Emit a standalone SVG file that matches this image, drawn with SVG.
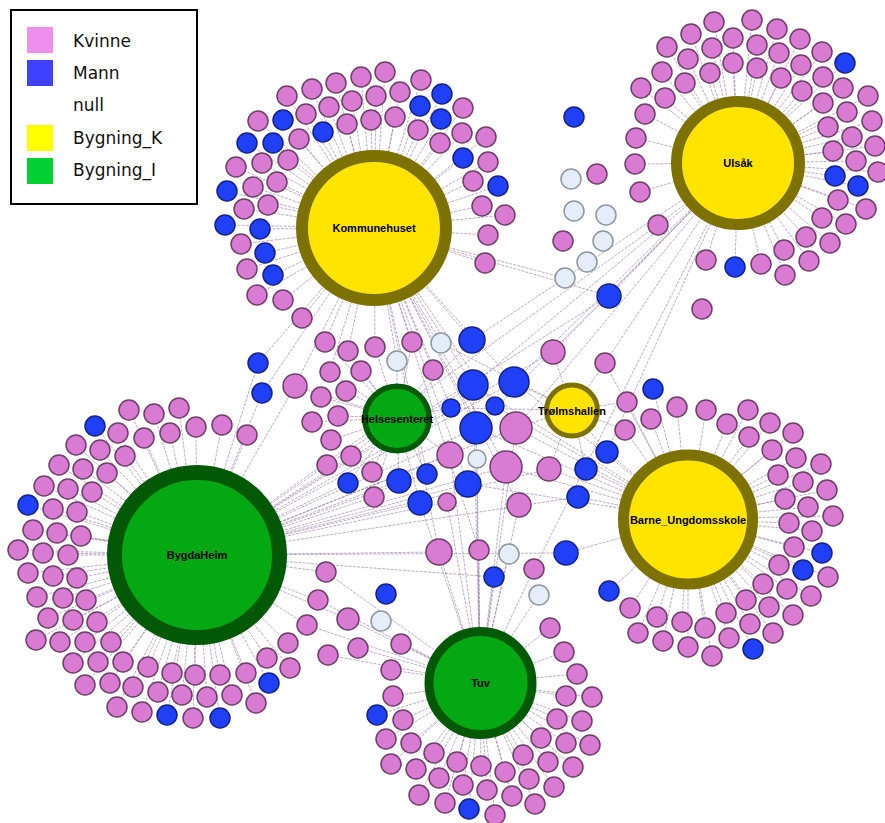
<svg xmlns="http://www.w3.org/2000/svg" width="885" height="823" viewBox="0 0 885 823">
<style>
.bg{fill:#fff}
.e line{stroke:#8a6d9c;stroke-width:.8;stroke-dasharray:3 1.2;opacity:.7}
.f{fill:#d97bd3;stroke:#6e3f68;stroke-width:1.5}
.m{fill:#2040f8;stroke:#13208a;stroke-width:1.5}
.n{fill:#e5edfa;stroke:#8d979d;stroke-width:1.5}
.hk{fill:#ffe400;stroke:#7d7100}
.hi{fill:#03a812;stroke:#015805}
.lb{font-family:"Liberation Sans",Arial,sans-serif;font-size:11px;font-weight:bold;fill:#000;text-anchor:middle}
.lg{font-family:"DejaVu Sans",Verdana,sans-serif;font-size:17px;fill:#111}
</style>
<rect class="bg" width="885" height="823"/>
<g id="connectors" class="e">
<!-- Kommunehuset -->
<line x1="385" y1="72" x2="374" y2="228"/><line x1="361" y1="77" x2="374" y2="228"/><line x1="336" y1="83" x2="374" y2="228"/><line x1="312" y1="89" x2="374" y2="228"/><line x1="287" y1="96" x2="374" y2="228"/><line x1="421" y1="80" x2="374" y2="228"/><line x1="442" y1="94" x2="374" y2="228"/><line x1="400" y1="92" x2="374" y2="228"/><line x1="376" y1="96" x2="374" y2="228"/><line x1="352" y1="101" x2="374" y2="228"/><line x1="329" y1="107" x2="374" y2="228"/><line x1="306" y1="114" x2="374" y2="228"/><line x1="283" y1="120" x2="374" y2="228"/><line x1="258" y1="121" x2="374" y2="228"/><line x1="420" y1="106" x2="374" y2="228"/><line x1="441" y1="119" x2="374" y2="228"/><line x1="463" y1="108" x2="374" y2="228"/><line x1="395" y1="117" x2="374" y2="228"/><line x1="371" y1="120" x2="374" y2="228"/><line x1="347" y1="124" x2="374" y2="228"/><line x1="323" y1="132" x2="374" y2="228"/><line x1="299" y1="139" x2="374" y2="228"/><line x1="273" y1="143" x2="374" y2="228"/><line x1="247" y1="143" x2="374" y2="228"/><line x1="418" y1="130" x2="374" y2="228"/><line x1="440" y1="143" x2="374" y2="228"/><line x1="462" y1="133" x2="374" y2="228"/><line x1="486" y1="137" x2="374" y2="228"/><line x1="463" y1="158" x2="374" y2="228"/><line x1="488" y1="162" x2="374" y2="228"/><line x1="288" y1="160" x2="374" y2="228"/><line x1="262" y1="163" x2="374" y2="228"/><line x1="236" y1="167" x2="374" y2="228"/><line x1="473" y1="181" x2="374" y2="228"/><line x1="498" y1="186" x2="374" y2="228"/><line x1="277" y1="182" x2="374" y2="228"/><line x1="253" y1="187" x2="374" y2="228"/><line x1="227" y1="191" x2="374" y2="228"/><line x1="482" y1="206" x2="374" y2="228"/><line x1="505" y1="215" x2="374" y2="228"/><line x1="268" y1="205" x2="374" y2="228"/><line x1="244" y1="209" x2="374" y2="228"/><line x1="225" y1="225" x2="374" y2="228"/><line x1="260" y1="229" x2="374" y2="228"/><line x1="488" y1="235" x2="374" y2="228"/><line x1="241" y1="244" x2="374" y2="228"/><line x1="265" y1="253" x2="374" y2="228"/><line x1="485" y1="263" x2="374" y2="228"/><line x1="247" y1="269" x2="374" y2="228"/><line x1="273" y1="275" x2="374" y2="228"/><line x1="257" y1="295" x2="374" y2="228"/><line x1="283" y1="300" x2="374" y2="228"/><line x1="302" y1="318" x2="374" y2="228"/>
<line x1="441" y1="343" x2="374" y2="228"/><line x1="472" y1="340" x2="374" y2="228"/><line x1="473" y1="385" x2="374" y2="228"/><line x1="514" y1="382" x2="374" y2="228"/><line x1="451" y1="408" x2="374" y2="228"/><line x1="495" y1="406" x2="374" y2="228"/><line x1="476" y1="428" x2="374" y2="228"/><line x1="506" y1="467" x2="374" y2="228"/><line x1="427" y1="474" x2="374" y2="228"/><line x1="468" y1="484" x2="374" y2="228"/><line x1="519" y1="505" x2="374" y2="228"/><line x1="439" y1="552" x2="374" y2="228"/><line x1="479" y1="550" x2="374" y2="228"/><line x1="609" y1="296" x2="374" y2="228"/><line x1="565" y1="278" x2="374" y2="228"/><line x1="258" y1="363" x2="374" y2="228"/><line x1="262" y1="393" x2="374" y2="228"/><line x1="295" y1="386" x2="374" y2="228"/><line x1="325" y1="342" x2="374" y2="228"/><line x1="348" y1="351" x2="374" y2="228"/><line x1="375" y1="347" x2="374" y2="228"/><line x1="397" y1="361" x2="374" y2="228"/><line x1="412" y1="342" x2="374" y2="228"/><line x1="330" y1="372" x2="374" y2="228"/><line x1="433" y1="370" x2="374" y2="228"/>
<!-- Ulsak -->
<line x1="714" y1="22" x2="738" y2="163"/><line x1="752" y1="20" x2="738" y2="163"/><line x1="691" y1="34" x2="738" y2="163"/><line x1="777" y1="29" x2="738" y2="163"/><line x1="733" y1="38" x2="738" y2="163"/><line x1="667" y1="47" x2="738" y2="163"/><line x1="712" y1="48" x2="738" y2="163"/><line x1="757" y1="45" x2="738" y2="163"/><line x1="800" y1="39" x2="738" y2="163"/><line x1="822" y1="52" x2="738" y2="163"/><line x1="845" y1="63" x2="738" y2="163"/><line x1="688" y1="59" x2="738" y2="163"/><line x1="733" y1="63" x2="738" y2="163"/><line x1="779" y1="53" x2="738" y2="163"/><line x1="662" y1="72" x2="738" y2="163"/><line x1="710" y1="73" x2="738" y2="163"/><line x1="757" y1="68" x2="738" y2="163"/><line x1="801" y1="65" x2="738" y2="163"/><line x1="823" y1="77" x2="738" y2="163"/><line x1="641" y1="88" x2="738" y2="163"/><line x1="685" y1="83" x2="738" y2="163"/><line x1="781" y1="78" x2="738" y2="163"/><line x1="802" y1="91" x2="738" y2="163"/><line x1="843" y1="88" x2="738" y2="163"/><line x1="868" y1="96" x2="738" y2="163"/><line x1="665" y1="98" x2="738" y2="163"/><line x1="823" y1="103" x2="738" y2="163"/><line x1="847" y1="112" x2="738" y2="163"/><line x1="872" y1="121" x2="738" y2="163"/><line x1="645" y1="114" x2="738" y2="163"/><line x1="828" y1="127" x2="738" y2="163"/><line x1="852" y1="137" x2="738" y2="163"/><line x1="875" y1="146" x2="738" y2="163"/><line x1="636" y1="138" x2="738" y2="163"/><line x1="833" y1="151" x2="738" y2="163"/><line x1="856" y1="161" x2="738" y2="163"/><line x1="878" y1="172" x2="738" y2="163"/><line x1="635" y1="164" x2="738" y2="163"/><line x1="835" y1="176" x2="738" y2="163"/><line x1="858" y1="186" x2="738" y2="163"/><line x1="640" y1="192" x2="738" y2="163"/><line x1="838" y1="200" x2="738" y2="163"/><line x1="866" y1="209" x2="738" y2="163"/><line x1="658" y1="225" x2="738" y2="163"/><line x1="822" y1="218" x2="738" y2="163"/><line x1="846" y1="224" x2="738" y2="163"/><line x1="806" y1="237" x2="738" y2="163"/><line x1="830" y1="243" x2="738" y2="163"/><line x1="784" y1="250" x2="738" y2="163"/><line x1="809" y1="261" x2="738" y2="163"/><line x1="706" y1="260" x2="738" y2="163"/><line x1="735" y1="267" x2="738" y2="163"/><line x1="761" y1="264" x2="738" y2="163"/><line x1="785" y1="275" x2="738" y2="163"/>
<line x1="472" y1="340" x2="738" y2="163"/><line x1="473" y1="385" x2="738" y2="163"/><line x1="514" y1="382" x2="738" y2="163"/><line x1="553" y1="352" x2="738" y2="163"/><line x1="605" y1="363" x2="738" y2="163"/><line x1="476" y1="428" x2="738" y2="163"/><line x1="516" y1="428" x2="738" y2="163"/><line x1="607" y1="452" x2="738" y2="163"/><line x1="534" y1="569" x2="738" y2="163"/><line x1="609" y1="296" x2="738" y2="163"/>
<!-- BygdaHeim -->
<line x1="129" y1="410" x2="197" y2="555"/><line x1="154" y1="414" x2="197" y2="555"/><line x1="179" y1="408" x2="197" y2="555"/><line x1="95" y1="426" x2="197" y2="555"/><line x1="118" y1="433" x2="197" y2="555"/><line x1="144" y1="438" x2="197" y2="555"/><line x1="170" y1="433" x2="197" y2="555"/><line x1="196" y1="427" x2="197" y2="555"/><line x1="222" y1="425" x2="197" y2="555"/><line x1="247" y1="435" x2="197" y2="555"/><line x1="76" y1="445" x2="197" y2="555"/><line x1="100" y1="450" x2="197" y2="555"/><line x1="125" y1="456" x2="197" y2="555"/><line x1="59" y1="465" x2="197" y2="555"/><line x1="83" y1="469" x2="197" y2="555"/><line x1="107" y1="473" x2="197" y2="555"/><line x1="44" y1="486" x2="197" y2="555"/><line x1="68" y1="489" x2="197" y2="555"/><line x1="92" y1="492" x2="197" y2="555"/><line x1="28" y1="505" x2="197" y2="555"/><line x1="53" y1="509" x2="197" y2="555"/><line x1="77" y1="512" x2="197" y2="555"/><line x1="33" y1="530" x2="197" y2="555"/><line x1="57" y1="533" x2="197" y2="555"/><line x1="81" y1="536" x2="197" y2="555"/><line x1="18" y1="550" x2="197" y2="555"/><line x1="43" y1="553" x2="197" y2="555"/><line x1="68" y1="555" x2="197" y2="555"/><line x1="28" y1="573" x2="197" y2="555"/><line x1="53" y1="576" x2="197" y2="555"/><line x1="77" y1="578" x2="197" y2="555"/><line x1="37" y1="597" x2="197" y2="555"/><line x1="63" y1="598" x2="197" y2="555"/><line x1="86" y1="600" x2="197" y2="555"/><line x1="48" y1="618" x2="197" y2="555"/><line x1="73" y1="620" x2="197" y2="555"/><line x1="97" y1="622" x2="197" y2="555"/><line x1="36" y1="640" x2="197" y2="555"/><line x1="60" y1="642" x2="197" y2="555"/><line x1="85" y1="642" x2="197" y2="555"/><line x1="111" y1="642" x2="197" y2="555"/><line x1="73" y1="663" x2="197" y2="555"/><line x1="98" y1="662" x2="197" y2="555"/><line x1="123" y1="662" x2="197" y2="555"/><line x1="148" y1="667" x2="197" y2="555"/><line x1="172" y1="673" x2="197" y2="555"/><line x1="195" y1="675" x2="197" y2="555"/><line x1="220" y1="675" x2="197" y2="555"/><line x1="246" y1="673" x2="197" y2="555"/><line x1="267" y1="658" x2="197" y2="555"/><line x1="288" y1="643" x2="197" y2="555"/><line x1="290" y1="668" x2="197" y2="555"/><line x1="307" y1="625" x2="197" y2="555"/><line x1="85" y1="685" x2="197" y2="555"/><line x1="110" y1="683" x2="197" y2="555"/><line x1="133" y1="687" x2="197" y2="555"/><line x1="158" y1="692" x2="197" y2="555"/><line x1="182" y1="695" x2="197" y2="555"/><line x1="207" y1="697" x2="197" y2="555"/><line x1="232" y1="695" x2="197" y2="555"/><line x1="269" y1="683" x2="197" y2="555"/><line x1="117" y1="707" x2="197" y2="555"/><line x1="142" y1="712" x2="197" y2="555"/><line x1="167" y1="715" x2="197" y2="555"/><line x1="193" y1="718" x2="197" y2="555"/><line x1="220" y1="718" x2="197" y2="555"/><line x1="256" y1="703" x2="197" y2="555"/>
<line x1="473" y1="385" x2="197" y2="555"/><line x1="514" y1="382" x2="197" y2="555"/><line x1="553" y1="352" x2="197" y2="555"/><line x1="476" y1="428" x2="197" y2="555"/><line x1="516" y1="428" x2="197" y2="555"/><line x1="450" y1="455" x2="197" y2="555"/><line x1="506" y1="467" x2="197" y2="555"/><line x1="549" y1="469" x2="197" y2="555"/><line x1="399" y1="481" x2="197" y2="555"/><line x1="427" y1="474" x2="197" y2="555"/><line x1="468" y1="484" x2="197" y2="555"/><line x1="420" y1="503" x2="197" y2="555"/><line x1="447" y1="502" x2="197" y2="555"/><line x1="578" y1="497" x2="197" y2="555"/><line x1="439" y1="552" x2="197" y2="555"/><line x1="566" y1="553" x2="197" y2="555"/><line x1="494" y1="577" x2="197" y2="555"/><line x1="326" y1="572" x2="197" y2="555"/><line x1="318" y1="600" x2="197" y2="555"/><line x1="348" y1="619" x2="197" y2="555"/><line x1="609" y1="296" x2="197" y2="555"/><line x1="658" y1="225" x2="197" y2="555"/><line x1="258" y1="363" x2="197" y2="555"/><line x1="262" y1="393" x2="197" y2="555"/><line x1="295" y1="386" x2="197" y2="555"/><line x1="327" y1="465" x2="197" y2="555"/><line x1="348" y1="483" x2="197" y2="555"/><line x1="374" y1="497" x2="197" y2="555"/><line x1="351" y1="456" x2="197" y2="555"/>
<!-- Tuv -->
<line x1="358" y1="648" x2="480" y2="683"/><line x1="328" y1="655" x2="480" y2="683"/><line x1="401" y1="644" x2="480" y2="683"/><line x1="391" y1="670" x2="480" y2="683"/><line x1="393" y1="696" x2="480" y2="683"/><line x1="377" y1="715" x2="480" y2="683"/><line x1="403" y1="720" x2="480" y2="683"/><line x1="386" y1="739" x2="480" y2="683"/><line x1="411" y1="743" x2="480" y2="683"/><line x1="391" y1="764" x2="480" y2="683"/><line x1="416" y1="769" x2="480" y2="683"/><line x1="434" y1="753" x2="480" y2="683"/><line x1="457" y1="762" x2="480" y2="683"/><line x1="481" y1="766" x2="480" y2="683"/><line x1="505" y1="772" x2="480" y2="683"/><line x1="523" y1="755" x2="480" y2="683"/><line x1="541" y1="738" x2="480" y2="683"/><line x1="557" y1="719" x2="480" y2="683"/><line x1="566" y1="696" x2="480" y2="683"/><line x1="577" y1="674" x2="480" y2="683"/><line x1="564" y1="652" x2="480" y2="683"/><line x1="550" y1="628" x2="480" y2="683"/><line x1="592" y1="697" x2="480" y2="683"/><line x1="582" y1="721" x2="480" y2="683"/><line x1="566" y1="743" x2="480" y2="683"/><line x1="590" y1="745" x2="480" y2="683"/><line x1="548" y1="762" x2="480" y2="683"/><line x1="573" y1="767" x2="480" y2="683"/><line x1="529" y1="779" x2="480" y2="683"/><line x1="554" y1="787" x2="480" y2="683"/><line x1="439" y1="778" x2="480" y2="683"/><line x1="463" y1="785" x2="480" y2="683"/><line x1="487" y1="790" x2="480" y2="683"/><line x1="512" y1="796" x2="480" y2="683"/><line x1="535" y1="804" x2="480" y2="683"/><line x1="419" y1="795" x2="480" y2="683"/><line x1="445" y1="803" x2="480" y2="683"/><line x1="469" y1="809" x2="480" y2="683"/><line x1="495" y1="815" x2="480" y2="683"/>
<line x1="473" y1="385" x2="480" y2="683"/><line x1="476" y1="428" x2="480" y2="683"/><line x1="516" y1="428" x2="480" y2="683"/><line x1="450" y1="455" x2="480" y2="683"/><line x1="477" y1="459" x2="480" y2="683"/><line x1="506" y1="467" x2="480" y2="683"/><line x1="420" y1="503" x2="480" y2="683"/><line x1="447" y1="502" x2="480" y2="683"/><line x1="519" y1="505" x2="480" y2="683"/><line x1="439" y1="552" x2="480" y2="683"/><line x1="479" y1="550" x2="480" y2="683"/><line x1="509" y1="554" x2="480" y2="683"/><line x1="534" y1="569" x2="480" y2="683"/><line x1="494" y1="577" x2="480" y2="683"/><line x1="539" y1="595" x2="480" y2="683"/><line x1="326" y1="572" x2="480" y2="683"/><line x1="318" y1="600" x2="480" y2="683"/><line x1="348" y1="619" x2="480" y2="683"/><line x1="307" y1="625" x2="480" y2="683"/>
<!-- Barne_Ungdomsskole -->
<line x1="653" y1="389" x2="688" y2="519"/><line x1="677" y1="407" x2="688" y2="519"/><line x1="651" y1="419" x2="688" y2="519"/><line x1="706" y1="410" x2="688" y2="519"/><line x1="748" y1="410" x2="688" y2="519"/><line x1="727" y1="424" x2="688" y2="519"/><line x1="770" y1="423" x2="688" y2="519"/><line x1="793" y1="433" x2="688" y2="519"/><line x1="749" y1="437" x2="688" y2="519"/><line x1="772" y1="450" x2="688" y2="519"/><line x1="796" y1="458" x2="688" y2="519"/><line x1="821" y1="464" x2="688" y2="519"/><line x1="778" y1="475" x2="688" y2="519"/><line x1="803" y1="482" x2="688" y2="519"/><line x1="827" y1="490" x2="688" y2="519"/><line x1="785" y1="499" x2="688" y2="519"/><line x1="808" y1="507" x2="688" y2="519"/><line x1="833" y1="516" x2="688" y2="519"/><line x1="789" y1="523" x2="688" y2="519"/><line x1="812" y1="531" x2="688" y2="519"/><line x1="794" y1="547" x2="688" y2="519"/><line x1="822" y1="553" x2="688" y2="519"/><line x1="779" y1="565" x2="688" y2="519"/><line x1="803" y1="570" x2="688" y2="519"/><line x1="828" y1="577" x2="688" y2="519"/><line x1="763" y1="584" x2="688" y2="519"/><line x1="787" y1="589" x2="688" y2="519"/><line x1="811" y1="596" x2="688" y2="519"/><line x1="746" y1="600" x2="688" y2="519"/><line x1="769" y1="607" x2="688" y2="519"/><line x1="793" y1="615" x2="688" y2="519"/><line x1="657" y1="617" x2="688" y2="519"/><line x1="682" y1="622" x2="688" y2="519"/><line x1="705" y1="628" x2="688" y2="519"/><line x1="726" y1="613" x2="688" y2="519"/><line x1="750" y1="624" x2="688" y2="519"/><line x1="773" y1="633" x2="688" y2="519"/><line x1="638" y1="633" x2="688" y2="519"/><line x1="663" y1="641" x2="688" y2="519"/><line x1="688" y1="647" x2="688" y2="519"/><line x1="712" y1="656" x2="688" y2="519"/><line x1="729" y1="638" x2="688" y2="519"/><line x1="753" y1="649" x2="688" y2="519"/><line x1="609" y1="591" x2="688" y2="519"/><line x1="630" y1="608" x2="688" y2="519"/>
<line x1="473" y1="385" x2="688" y2="519"/><line x1="514" y1="382" x2="688" y2="519"/><line x1="605" y1="363" x2="688" y2="519"/><line x1="495" y1="406" x2="688" y2="519"/><line x1="476" y1="428" x2="688" y2="519"/><line x1="516" y1="428" x2="688" y2="519"/><line x1="627" y1="402" x2="688" y2="519"/><line x1="625" y1="430" x2="688" y2="519"/><line x1="506" y1="467" x2="688" y2="519"/><line x1="549" y1="469" x2="688" y2="519"/><line x1="586" y1="469" x2="688" y2="519"/><line x1="607" y1="452" x2="688" y2="519"/><line x1="468" y1="484" x2="688" y2="519"/><line x1="578" y1="497" x2="688" y2="519"/><line x1="566" y1="553" x2="688" y2="519"/>
<!-- Helsesenteret -->
<line x1="325" y1="342" x2="397" y2="418"/><line x1="348" y1="351" x2="397" y2="418"/><line x1="375" y1="347" x2="397" y2="418"/><line x1="397" y1="361" x2="397" y2="418"/><line x1="412" y1="342" x2="397" y2="418"/><line x1="330" y1="372" x2="397" y2="418"/><line x1="361" y1="371" x2="397" y2="418"/><line x1="321" y1="397" x2="397" y2="418"/><line x1="346" y1="391" x2="397" y2="418"/><line x1="338" y1="416" x2="397" y2="418"/><line x1="312" y1="422" x2="397" y2="418"/><line x1="331" y1="440" x2="397" y2="418"/><line x1="351" y1="456" x2="397" y2="418"/><line x1="327" y1="465" x2="397" y2="418"/><line x1="372" y1="472" x2="397" y2="418"/><line x1="348" y1="483" x2="397" y2="418"/><line x1="374" y1="497" x2="397" y2="418"/><line x1="433" y1="370" x2="397" y2="418"/>
<line x1="472" y1="340" x2="397" y2="418"/><line x1="451" y1="408" x2="397" y2="418"/><line x1="450" y1="455" x2="397" y2="418"/><line x1="399" y1="481" x2="397" y2="418"/><line x1="427" y1="474" x2="397" y2="418"/><line x1="420" y1="503" x2="397" y2="418"/><line x1="295" y1="386" x2="397" y2="418"/>
<!-- Trolmshallen -->
<line x1="441" y1="343" x2="572" y2="410"/><line x1="514" y1="382" x2="572" y2="410"/><line x1="553" y1="352" x2="572" y2="410"/><line x1="605" y1="363" x2="572" y2="410"/><line x1="451" y1="408" x2="572" y2="410"/><line x1="516" y1="428" x2="572" y2="410"/><line x1="627" y1="402" x2="572" y2="410"/><line x1="625" y1="430" x2="572" y2="410"/><line x1="549" y1="469" x2="572" y2="410"/><line x1="586" y1="469" x2="572" y2="410"/><line x1="607" y1="452" x2="572" y2="410"/>
</g>
<g id="people">
<g id="k01"><circle class="f" cx="385" cy="72" r="10"/></g><g id="k02"><circle class="f" cx="361" cy="77" r="10"/></g><g id="k03"><circle class="f" cx="336" cy="83" r="10"/></g><g id="k04"><circle class="f" cx="312" cy="89" r="10"/></g><g id="k05"><circle class="f" cx="287" cy="96" r="10"/></g><g id="k06"><circle class="f" cx="421" cy="80" r="10"/></g><g id="k07"><circle class="m" cx="442" cy="94" r="10"/></g><g id="k08"><circle class="f" cx="400" cy="92" r="10"/></g><g id="k09"><circle class="f" cx="376" cy="96" r="10"/></g><g id="k10"><circle class="f" cx="352" cy="101" r="10"/></g><g id="k11"><circle class="f" cx="329" cy="107" r="10"/></g><g id="k12"><circle class="f" cx="306" cy="114" r="10"/></g><g id="k13"><circle class="m" cx="283" cy="120" r="10"/></g><g id="k14"><circle class="f" cx="258" cy="121" r="10"/></g><g id="k15"><circle class="m" cx="420" cy="106" r="10"/></g><g id="k16"><circle class="m" cx="441" cy="119" r="10"/></g><g id="k17"><circle class="f" cx="463" cy="108" r="10"/></g><g id="k18"><circle class="f" cx="395" cy="117" r="10"/></g><g id="k19"><circle class="f" cx="371" cy="120" r="10"/></g><g id="k20"><circle class="f" cx="347" cy="124" r="10"/></g><g id="k21"><circle class="m" cx="323" cy="132" r="10"/></g><g id="k22"><circle class="f" cx="299" cy="139" r="10"/></g><g id="k23"><circle class="m" cx="273" cy="143" r="10"/></g><g id="k24"><circle class="m" cx="247" cy="143" r="10"/></g><g id="k25"><circle class="f" cx="418" cy="130" r="10"/></g><g id="k26"><circle class="f" cx="440" cy="143" r="10"/></g><g id="k27"><circle class="f" cx="462" cy="133" r="10"/></g><g id="k28"><circle class="f" cx="486" cy="137" r="10"/></g><g id="k29"><circle class="m" cx="463" cy="158" r="10"/></g><g id="k30"><circle class="f" cx="488" cy="162" r="10"/></g><g id="k31"><circle class="f" cx="288" cy="160" r="10"/></g><g id="k32"><circle class="f" cx="262" cy="163" r="10"/></g><g id="k33"><circle class="f" cx="236" cy="167" r="10"/></g><g id="k34"><circle class="f" cx="473" cy="181" r="10"/></g><g id="k35"><circle class="m" cx="498" cy="186" r="10"/></g><g id="k36"><circle class="f" cx="277" cy="182" r="10"/></g><g id="k37"><circle class="f" cx="253" cy="187" r="10"/></g><g id="k38"><circle class="m" cx="227" cy="191" r="10"/></g><g id="k39"><circle class="f" cx="482" cy="206" r="10"/></g><g id="k40"><circle class="f" cx="505" cy="215" r="10"/></g><g id="k41"><circle class="f" cx="268" cy="205" r="10"/></g><g id="k42"><circle class="f" cx="244" cy="209" r="10"/></g><g id="k43"><circle class="m" cx="225" cy="225" r="10"/></g><g id="k44"><circle class="m" cx="260" cy="229" r="10"/></g><g id="k45"><circle class="f" cx="488" cy="235" r="10"/></g><g id="k46"><circle class="f" cx="241" cy="244" r="10"/></g><g id="k47"><circle class="m" cx="265" cy="253" r="10"/></g><g id="k48"><circle class="f" cx="485" cy="263" r="10"/></g><g id="k49"><circle class="f" cx="247" cy="269" r="10"/></g><g id="k50"><circle class="m" cx="273" cy="275" r="10"/></g><g id="k51"><circle class="f" cx="257" cy="295" r="10"/></g><g id="k52"><circle class="f" cx="283" cy="300" r="10"/></g><g id="k53"><circle class="f" cx="302" cy="318" r="10"/></g>
<g id="u01"><circle class="f" cx="714" cy="22" r="10"/></g><g id="u02"><circle class="f" cx="752" cy="20" r="10"/></g><g id="u03"><circle class="f" cx="691" cy="34" r="10"/></g><g id="u04"><circle class="f" cx="777" cy="29" r="10"/></g><g id="u05"><circle class="f" cx="733" cy="38" r="10"/></g><g id="u06"><circle class="f" cx="667" cy="47" r="10"/></g><g id="u07"><circle class="f" cx="712" cy="48" r="10"/></g><g id="u08"><circle class="f" cx="757" cy="45" r="10"/></g><g id="u09"><circle class="f" cx="800" cy="39" r="10"/></g><g id="u10"><circle class="f" cx="822" cy="52" r="10"/></g><g id="u11"><circle class="m" cx="845" cy="63" r="10"/></g><g id="u12"><circle class="f" cx="688" cy="59" r="10"/></g><g id="u13"><circle class="f" cx="733" cy="63" r="10"/></g><g id="u14"><circle class="f" cx="779" cy="53" r="10"/></g><g id="u15"><circle class="f" cx="662" cy="72" r="10"/></g><g id="u16"><circle class="f" cx="710" cy="73" r="10"/></g><g id="u17"><circle class="f" cx="757" cy="68" r="10"/></g><g id="u18"><circle class="f" cx="801" cy="65" r="10"/></g><g id="u19"><circle class="f" cx="823" cy="77" r="10"/></g><g id="u20"><circle class="f" cx="641" cy="88" r="10"/></g><g id="u21"><circle class="f" cx="685" cy="83" r="10"/></g><g id="u22"><circle class="f" cx="781" cy="78" r="10"/></g><g id="u23"><circle class="f" cx="802" cy="91" r="10"/></g><g id="u24"><circle class="f" cx="843" cy="88" r="10"/></g><g id="u25"><circle class="f" cx="868" cy="96" r="10"/></g><g id="u26"><circle class="f" cx="665" cy="98" r="10"/></g><g id="u27"><circle class="f" cx="823" cy="103" r="10"/></g><g id="u28"><circle class="f" cx="847" cy="112" r="10"/></g><g id="u29"><circle class="f" cx="872" cy="121" r="10"/></g><g id="u30"><circle class="f" cx="645" cy="114" r="10"/></g><g id="u31"><circle class="f" cx="828" cy="127" r="10"/></g><g id="u32"><circle class="f" cx="852" cy="137" r="10"/></g><g id="u33"><circle class="f" cx="875" cy="146" r="10"/></g><g id="u34"><circle class="f" cx="636" cy="138" r="10"/></g><g id="u35"><circle class="f" cx="833" cy="151" r="10"/></g><g id="u36"><circle class="f" cx="856" cy="161" r="10"/></g><g id="u37"><circle class="f" cx="878" cy="172" r="10"/></g><g id="u38"><circle class="f" cx="635" cy="164" r="10"/></g><g id="u39"><circle class="m" cx="835" cy="176" r="10"/></g><g id="u40"><circle class="m" cx="858" cy="186" r="10"/></g><g id="u41"><circle class="f" cx="640" cy="192" r="10"/></g><g id="u42"><circle class="f" cx="838" cy="200" r="10"/></g><g id="u43"><circle class="f" cx="866" cy="209" r="10"/></g><g id="u44"><circle class="f" cx="658" cy="225" r="10"/></g><g id="u45"><circle class="f" cx="822" cy="218" r="10"/></g><g id="u46"><circle class="f" cx="846" cy="224" r="10"/></g><g id="u47"><circle class="f" cx="806" cy="237" r="10"/></g><g id="u48"><circle class="f" cx="830" cy="243" r="10"/></g><g id="u49"><circle class="f" cx="784" cy="250" r="10"/></g><g id="u50"><circle class="f" cx="809" cy="261" r="10"/></g><g id="u51"><circle class="f" cx="706" cy="260" r="10"/></g><g id="u52"><circle class="m" cx="735" cy="267" r="10"/></g><g id="u53"><circle class="f" cx="761" cy="264" r="10"/></g><g id="u54"><circle class="f" cx="785" cy="275" r="10"/></g><g id="u55"><circle class="f" cx="702" cy="309" r="10"/></g>
<g id="b01"><circle class="f" cx="129" cy="410" r="10"/></g><g id="b02"><circle class="f" cx="154" cy="414" r="10"/></g><g id="b03"><circle class="f" cx="179" cy="408" r="10"/></g><g id="b04"><circle class="m" cx="95" cy="426" r="10"/></g><g id="b05"><circle class="f" cx="118" cy="433" r="10"/></g><g id="b06"><circle class="f" cx="144" cy="438" r="10"/></g><g id="b07"><circle class="f" cx="170" cy="433" r="10"/></g><g id="b08"><circle class="f" cx="196" cy="427" r="10"/></g><g id="b09"><circle class="f" cx="222" cy="425" r="10"/></g><g id="b10"><circle class="f" cx="247" cy="435" r="10"/></g><g id="b11"><circle class="f" cx="76" cy="445" r="10"/></g><g id="b12"><circle class="f" cx="100" cy="450" r="10"/></g><g id="b13"><circle class="f" cx="125" cy="456" r="10"/></g><g id="b14"><circle class="f" cx="59" cy="465" r="10"/></g><g id="b15"><circle class="f" cx="83" cy="469" r="10"/></g><g id="b16"><circle class="f" cx="107" cy="473" r="10"/></g><g id="b17"><circle class="f" cx="44" cy="486" r="10"/></g><g id="b18"><circle class="f" cx="68" cy="489" r="10"/></g><g id="b19"><circle class="f" cx="92" cy="492" r="10"/></g><g id="b20"><circle class="m" cx="28" cy="505" r="10"/></g><g id="b21"><circle class="f" cx="53" cy="509" r="10"/></g><g id="b22"><circle class="f" cx="77" cy="512" r="10"/></g><g id="b23"><circle class="f" cx="33" cy="530" r="10"/></g><g id="b24"><circle class="f" cx="57" cy="533" r="10"/></g><g id="b25"><circle class="f" cx="81" cy="536" r="10"/></g><g id="b26"><circle class="f" cx="18" cy="550" r="10"/></g><g id="b27"><circle class="f" cx="43" cy="553" r="10"/></g><g id="b28"><circle class="f" cx="68" cy="555" r="10"/></g><g id="b29"><circle class="f" cx="28" cy="573" r="10"/></g><g id="b30"><circle class="f" cx="53" cy="576" r="10"/></g><g id="b31"><circle class="f" cx="77" cy="578" r="10"/></g><g id="b32"><circle class="f" cx="37" cy="597" r="10"/></g><g id="b33"><circle class="f" cx="63" cy="598" r="10"/></g><g id="b34"><circle class="f" cx="86" cy="600" r="10"/></g><g id="b35"><circle class="f" cx="48" cy="618" r="10"/></g><g id="b36"><circle class="f" cx="73" cy="620" r="10"/></g><g id="b37"><circle class="f" cx="97" cy="622" r="10"/></g><g id="b38"><circle class="f" cx="36" cy="640" r="10"/></g><g id="b39"><circle class="f" cx="60" cy="642" r="10"/></g><g id="b40"><circle class="f" cx="85" cy="642" r="10"/></g><g id="b41"><circle class="f" cx="111" cy="642" r="10"/></g><g id="b42"><circle class="f" cx="73" cy="663" r="10"/></g><g id="b43"><circle class="f" cx="98" cy="662" r="10"/></g><g id="b44"><circle class="f" cx="123" cy="662" r="10"/></g><g id="b45"><circle class="f" cx="148" cy="667" r="10"/></g><g id="b46"><circle class="f" cx="172" cy="673" r="10"/></g><g id="b47"><circle class="f" cx="195" cy="675" r="10"/></g><g id="b48"><circle class="f" cx="220" cy="675" r="10"/></g><g id="b49"><circle class="f" cx="246" cy="673" r="10"/></g><g id="b50"><circle class="f" cx="267" cy="658" r="10"/></g><g id="b51"><circle class="f" cx="288" cy="643" r="10"/></g><g id="b52"><circle class="f" cx="290" cy="668" r="10"/></g><g id="b53"><circle class="f" cx="307" cy="625" r="10"/></g><g id="b54"><circle class="f" cx="85" cy="685" r="10"/></g><g id="b55"><circle class="f" cx="110" cy="683" r="10"/></g><g id="b56"><circle class="f" cx="133" cy="687" r="10"/></g><g id="b57"><circle class="f" cx="158" cy="692" r="10"/></g><g id="b58"><circle class="f" cx="182" cy="695" r="10"/></g><g id="b59"><circle class="f" cx="207" cy="697" r="10"/></g><g id="b60"><circle class="f" cx="232" cy="695" r="10"/></g><g id="b61"><circle class="m" cx="269" cy="683" r="10"/></g><g id="b62"><circle class="f" cx="117" cy="707" r="10"/></g><g id="b63"><circle class="f" cx="142" cy="712" r="10"/></g><g id="b64"><circle class="m" cx="167" cy="715" r="10"/></g><g id="b65"><circle class="f" cx="193" cy="718" r="10"/></g><g id="b66"><circle class="m" cx="220" cy="718" r="10"/></g><g id="b67"><circle class="f" cx="256" cy="703" r="10"/></g>
<g id="t01"><circle class="f" cx="358" cy="648" r="10"/></g><g id="t02"><circle class="f" cx="328" cy="655" r="10"/></g><g id="t03"><circle class="f" cx="401" cy="644" r="10"/></g><g id="t04"><circle class="f" cx="391" cy="670" r="10"/></g><g id="t05"><circle class="f" cx="393" cy="696" r="10"/></g><g id="t06"><circle class="m" cx="377" cy="715" r="10"/></g><g id="t07"><circle class="f" cx="403" cy="720" r="10"/></g><g id="t08"><circle class="f" cx="386" cy="739" r="10"/></g><g id="t09"><circle class="f" cx="411" cy="743" r="10"/></g><g id="t10"><circle class="f" cx="391" cy="764" r="10"/></g><g id="t11"><circle class="f" cx="416" cy="769" r="10"/></g><g id="t12"><circle class="f" cx="434" cy="753" r="10"/></g><g id="t13"><circle class="f" cx="457" cy="762" r="10"/></g><g id="t14"><circle class="f" cx="481" cy="766" r="10"/></g><g id="t15"><circle class="f" cx="505" cy="772" r="10"/></g><g id="t16"><circle class="f" cx="523" cy="755" r="10"/></g><g id="t17"><circle class="f" cx="541" cy="738" r="10"/></g><g id="t18"><circle class="f" cx="557" cy="719" r="10"/></g><g id="t19"><circle class="f" cx="566" cy="696" r="10"/></g><g id="t20"><circle class="f" cx="577" cy="674" r="10"/></g><g id="t21"><circle class="f" cx="564" cy="652" r="10"/></g><g id="t22"><circle class="f" cx="550" cy="628" r="10"/></g><g id="t23"><circle class="f" cx="592" cy="697" r="10"/></g><g id="t24"><circle class="f" cx="582" cy="721" r="10"/></g><g id="t25"><circle class="f" cx="566" cy="743" r="10"/></g><g id="t26"><circle class="f" cx="590" cy="745" r="10"/></g><g id="t27"><circle class="f" cx="548" cy="762" r="10"/></g><g id="t28"><circle class="f" cx="573" cy="767" r="10"/></g><g id="t29"><circle class="f" cx="529" cy="779" r="10"/></g><g id="t30"><circle class="f" cx="554" cy="787" r="10"/></g><g id="t31"><circle class="f" cx="439" cy="778" r="10"/></g><g id="t32"><circle class="f" cx="463" cy="785" r="10"/></g><g id="t33"><circle class="f" cx="487" cy="790" r="10"/></g><g id="t34"><circle class="f" cx="512" cy="796" r="10"/></g><g id="t35"><circle class="f" cx="535" cy="804" r="10"/></g><g id="t36"><circle class="f" cx="419" cy="795" r="10"/></g><g id="t37"><circle class="f" cx="445" cy="803" r="10"/></g><g id="t38"><circle class="m" cx="469" cy="809" r="10"/></g><g id="t39"><circle class="f" cx="495" cy="815" r="10"/></g>
<g id="s01"><circle class="m" cx="653" cy="389" r="10"/></g><g id="s02"><circle class="f" cx="677" cy="407" r="10"/></g><g id="s03"><circle class="f" cx="651" cy="419" r="10"/></g><g id="s04"><circle class="f" cx="706" cy="410" r="10"/></g><g id="s05"><circle class="f" cx="748" cy="410" r="10"/></g><g id="s06"><circle class="f" cx="727" cy="424" r="10"/></g><g id="s07"><circle class="f" cx="770" cy="423" r="10"/></g><g id="s08"><circle class="f" cx="793" cy="433" r="10"/></g><g id="s09"><circle class="f" cx="749" cy="437" r="10"/></g><g id="s10"><circle class="f" cx="772" cy="450" r="10"/></g><g id="s11"><circle class="f" cx="796" cy="458" r="10"/></g><g id="s12"><circle class="f" cx="821" cy="464" r="10"/></g><g id="s13"><circle class="f" cx="778" cy="475" r="10"/></g><g id="s14"><circle class="f" cx="803" cy="482" r="10"/></g><g id="s15"><circle class="f" cx="827" cy="490" r="10"/></g><g id="s16"><circle class="f" cx="785" cy="499" r="10"/></g><g id="s17"><circle class="f" cx="808" cy="507" r="10"/></g><g id="s18"><circle class="f" cx="833" cy="516" r="10"/></g><g id="s19"><circle class="f" cx="789" cy="523" r="10"/></g><g id="s20"><circle class="f" cx="812" cy="531" r="10"/></g><g id="s21"><circle class="f" cx="794" cy="547" r="10"/></g><g id="s22"><circle class="m" cx="822" cy="553" r="10"/></g><g id="s23"><circle class="f" cx="779" cy="565" r="10"/></g><g id="s24"><circle class="m" cx="803" cy="570" r="10"/></g><g id="s25"><circle class="f" cx="828" cy="577" r="10"/></g><g id="s26"><circle class="f" cx="763" cy="584" r="10"/></g><g id="s27"><circle class="f" cx="787" cy="589" r="10"/></g><g id="s28"><circle class="f" cx="811" cy="596" r="10"/></g><g id="s29"><circle class="f" cx="746" cy="600" r="10"/></g><g id="s30"><circle class="f" cx="769" cy="607" r="10"/></g><g id="s31"><circle class="f" cx="793" cy="615" r="10"/></g><g id="s32"><circle class="f" cx="657" cy="617" r="10"/></g><g id="s33"><circle class="f" cx="682" cy="622" r="10"/></g><g id="s34"><circle class="f" cx="705" cy="628" r="10"/></g><g id="s35"><circle class="f" cx="726" cy="613" r="10"/></g><g id="s36"><circle class="f" cx="750" cy="624" r="10"/></g><g id="s37"><circle class="f" cx="773" cy="633" r="10"/></g><g id="s38"><circle class="f" cx="638" cy="633" r="10"/></g><g id="s39"><circle class="f" cx="663" cy="641" r="10"/></g><g id="s40"><circle class="f" cx="688" cy="647" r="10"/></g><g id="s41"><circle class="f" cx="712" cy="656" r="10"/></g><g id="s42"><circle class="f" cx="729" cy="638" r="10"/></g><g id="s43"><circle class="m" cx="753" cy="649" r="10"/></g><g id="s44"><circle class="m" cx="609" cy="591" r="10"/></g><g id="s45"><circle class="f" cx="630" cy="608" r="10"/></g>
<g id="h01"><circle class="f" cx="325" cy="342" r="10"/></g><g id="h02"><circle class="f" cx="348" cy="351" r="10"/></g><g id="h03"><circle class="f" cx="375" cy="347" r="10"/></g><g id="h04"><circle class="n" cx="397" cy="361" r="10"/></g><g id="h05"><circle class="f" cx="412" cy="342" r="10"/></g><g id="h06"><circle class="f" cx="330" cy="372" r="10"/></g><g id="h07"><circle class="f" cx="361" cy="371" r="10"/></g><g id="h08"><circle class="f" cx="321" cy="397" r="10"/></g><g id="h09"><circle class="f" cx="346" cy="391" r="10"/></g><g id="h10"><circle class="f" cx="338" cy="416" r="10"/></g><g id="h11"><circle class="f" cx="312" cy="422" r="10"/></g><g id="h12"><circle class="f" cx="331" cy="440" r="10"/></g><g id="h13"><circle class="f" cx="351" cy="456" r="10"/></g><g id="h14"><circle class="f" cx="327" cy="465" r="10"/></g><g id="h15"><circle class="f" cx="372" cy="472" r="10"/></g><g id="h16"><circle class="m" cx="348" cy="483" r="10"/></g><g id="h17"><circle class="f" cx="374" cy="497" r="10"/></g><g id="h18"><circle class="f" cx="433" cy="370" r="10"/></g>
<g id="c01"><circle class="n" cx="441" cy="343" r="10"/></g><g id="c02"><circle class="m" cx="472" cy="340" r="13"/></g><g id="c03"><circle class="m" cx="473" cy="385" r="15"/></g><g id="c04"><circle class="m" cx="514" cy="382" r="15"/></g><g id="c05"><circle class="f" cx="553" cy="352" r="12"/></g><g id="c06"><circle class="f" cx="605" cy="363" r="10"/></g><g id="c07"><circle class="m" cx="451" cy="408" r="9"/></g><g id="c08"><circle class="m" cx="495" cy="406" r="9"/></g><g id="c09"><circle class="m" cx="476" cy="428" r="16"/></g><g id="c10"><circle class="f" cx="516" cy="428" r="16"/></g><g id="c11"><circle class="f" cx="627" cy="402" r="10"/></g><g id="c12"><circle class="f" cx="625" cy="430" r="10"/></g><g id="c13"><circle class="f" cx="450" cy="455" r="13"/></g><g id="c14"><circle class="n" cx="477" cy="459" r="9"/></g><g id="c15"><circle class="f" cx="506" cy="467" r="16"/></g><g id="c16"><circle class="f" cx="549" cy="469" r="12"/></g><g id="c17"><circle class="m" cx="586" cy="469" r="11"/></g><g id="c18"><circle class="m" cx="607" cy="452" r="11"/></g><g id="c19"><circle class="m" cx="399" cy="481" r="12"/></g><g id="c20"><circle class="m" cx="427" cy="474" r="10"/></g><g id="c21"><circle class="m" cx="468" cy="484" r="13"/></g><g id="c22"><circle class="m" cx="420" cy="503" r="12"/></g><g id="c23"><circle class="f" cx="447" cy="502" r="9"/></g><g id="c24"><circle class="f" cx="519" cy="505" r="12"/></g><g id="c25"><circle class="m" cx="578" cy="497" r="11"/></g><g id="c26"><circle class="f" cx="439" cy="552" r="13"/></g><g id="c27"><circle class="f" cx="479" cy="550" r="10"/></g><g id="c28"><circle class="n" cx="509" cy="554" r="10"/></g><g id="c29"><circle class="m" cx="566" cy="553" r="12"/></g><g id="c30"><circle class="f" cx="534" cy="569" r="10"/></g><g id="c31"><circle class="m" cx="494" cy="577" r="10"/></g><g id="c32"><circle class="n" cx="539" cy="595" r="10"/></g><g id="c33"><circle class="f" cx="326" cy="572" r="10"/></g><g id="c34"><circle class="f" cx="318" cy="600" r="10"/></g><g id="c35"><circle class="f" cx="348" cy="619" r="11"/></g><g id="c37"><circle class="m" cx="386" cy="594" r="10"/></g><g id="c38"><circle class="n" cx="381" cy="621" r="10"/></g><g id="c40"><circle class="f" cx="295" cy="386" r="12"/></g><g id="c41"><circle class="m" cx="258" cy="363" r="10"/></g><g id="c42"><circle class="m" cx="262" cy="393" r="10"/></g>
<g id="x01"><circle class="m" cx="574" cy="117" r="10"/></g><g id="x02"><circle class="f" cx="597" cy="174" r="10"/></g><g id="x03"><circle class="n" cx="571" cy="179" r="10"/></g><g id="x04"><circle class="n" cx="574" cy="211" r="10"/></g><g id="x05"><circle class="n" cx="606" cy="215" r="10"/></g><g id="x06"><circle class="f" cx="563" cy="241" r="10"/></g><g id="x07"><circle class="n" cx="603" cy="241" r="10"/></g><g id="x08"><circle class="n" cx="587" cy="262" r="10"/></g><g id="x09"><circle class="n" cx="565" cy="278" r="10"/></g><g id="x10"><circle class="m" cx="609" cy="296" r="12"/></g>
</g>
<g id="Kommunehuset"><circle class="hk" cx="374" cy="228" r="72" stroke-width="12"/><text class="lb" x="374" y="232">Kommunehuset</text></g>
<g id="Ulsak"><circle class="hk" cx="738" cy="163" r="61.5" stroke-width="11"/><text class="lb" x="738" y="167">Ulsåk</text></g>
<g id="BygdaHeim"><circle class="hi" cx="197" cy="555" r="82.5" stroke-width="15"/><text class="lb" x="197" y="559">BygdaHeim</text></g>
<g id="Tuv"><circle class="hi" cx="480.5" cy="683" r="51.5" stroke-width="9"/><text class="lb" x="480.5" y="687">Tuv</text></g>
<g id="Barne_Ungdomsskole"><circle class="hk" cx="688" cy="519.5" r="64.5" stroke-width="11"/><text class="lb" x="688" y="523.5">Barne_Ungdomsskole</text></g>
<g id="Helsesenteret"><circle class="hi" cx="397" cy="418.5" r="32.2" stroke-width="5.5"/><text class="lb" x="397" y="422.5">Helsesenteret</text></g>
<g id="Trolmshallen"><circle class="hk" cx="572" cy="410.5" r="25.5" stroke-width="5"/><text class="lb" x="572" y="414.5">Trølmshallen</text></g>
<g id="legend">
<rect x="11" y="10" width="186" height="194" fill="#fff" stroke="#000" stroke-width="2"/>
<rect x="27" y="27" width="26" height="26" fill="#f08ef0"/>
<rect x="27" y="60" width="26" height="26" fill="#4040ff"/>
<rect x="27" y="125" width="26" height="26" fill="#ffff00"/>
<rect x="27" y="158" width="26" height="26" fill="#00d032"/>
<text class="lg" x="73" y="47">Kvinne</text>
<text class="lg" x="73" y="79">Mann</text>
<text class="lg" x="73" y="111">null</text>
<text class="lg" x="73" y="144">Bygning_K</text>
<text class="lg" x="73" y="176">Bygning_I</text>
</g>
</svg>
